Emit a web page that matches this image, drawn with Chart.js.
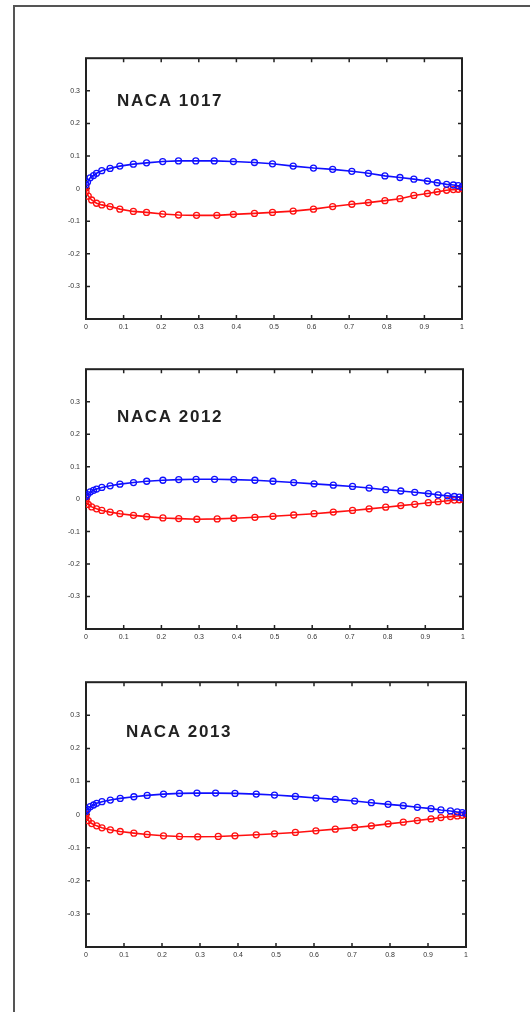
<!DOCTYPE html>
<html>
<head>
<meta charset="utf-8">
<script src="https://cdn.jsdelivr.net/npm/chart.js@4"></script>
<style>
  html, body { margin: 0; padding: 0; background: #fff; width: 530px; height: 1012px; overflow: hidden; }
  #frame { position: absolute; left: 13px; top: 5px; width: 600px; height: 1100px; border: 2px solid #555; box-sizing: border-box; }
  canvas { position: absolute; left: 0; }
</style>
</head>
<body>
<div id="frame"></div>
<canvas id="c1"></canvas>
<canvas id="c2"></canvas>
<canvas id="c3"></canvas>
<script>
// chord positions (x/c) of the plotted points
const xUpper = [0, 0.004, 0.011, 0.02, 0.028, 0.042, 0.064, 0.09, 0.126, 0.161, 0.204, 0.246, 0.292, 0.341, 0.392, 0.448, 0.496, 0.551, 0.605, 0.656, 0.707, 0.751, 0.795, 0.835, 0.872, 0.908, 0.934, 0.959, 0.977, 0.99, 1.0];
const xLower = [0, 0, 0.006, 0.015, 0.028, 0.042, 0.064, 0.09, 0.126, 0.161, 0.204, 0.246, 0.294, 0.348, 0.392, 0.448, 0.496, 0.551, 0.605, 0.656, 0.707, 0.751, 0.795, 0.835, 0.872, 0.908, 0.934, 0.959, 0.977, 0.99, 1.0];

// NACA 1017
const upper1017 = [0.012, 0.02, 0.033, 0.04, 0.047, 0.055, 0.062, 0.069, 0.075, 0.079, 0.083, 0.085, 0.085, 0.085, 0.083, 0.08, 0.076, 0.069, 0.063, 0.059, 0.053, 0.047, 0.039, 0.034, 0.029, 0.023, 0.018, 0.013, 0.011, 0.009, 0.005];
const lower1017 = [0.002, -0.01, -0.023, -0.035, -0.045, -0.05, -0.055, -0.063, -0.07, -0.073, -0.078, -0.081, -0.082, -0.082, -0.079, -0.076, -0.073, -0.069, -0.063, -0.055, -0.048, -0.043, -0.037, -0.031, -0.021, -0.015, -0.01, -0.005, -0.003, -0.002, 0];

// NACA 2012
const upper2012 = [0.008, 0.014, 0.022, 0.027, 0.031, 0.036, 0.041, 0.046, 0.051, 0.055, 0.058, 0.06, 0.061, 0.061, 0.06, 0.058, 0.055, 0.051, 0.047, 0.043, 0.039, 0.034, 0.029, 0.025, 0.021, 0.017, 0.013, 0.01, 0.008, 0.006, 0.004];
const lower2012 = [0.002, -0.008, -0.016, -0.024, -0.03, -0.035, -0.04, -0.045, -0.05, -0.054, -0.058, -0.06, -0.062, -0.061, -0.059, -0.056, -0.053, -0.049, -0.045, -0.04, -0.035, -0.03, -0.025, -0.02, -0.016, -0.011, -0.008, -0.005, -0.003, -0.002, 0];

// NACA 2013
const upper2013 = [0.01, 0.016, 0.024, 0.029, 0.034, 0.039, 0.044, 0.049, 0.054, 0.058, 0.062, 0.064, 0.065, 0.065, 0.064, 0.062, 0.059, 0.055, 0.05, 0.046, 0.041, 0.036, 0.031, 0.027, 0.022, 0.018, 0.014, 0.011, 0.008, 0.006, 0.004];
const lower2013 = [0.002, -0.009, -0.018, -0.027, -0.034, -0.04, -0.046, -0.051, -0.056, -0.06, -0.064, -0.066, -0.067, -0.066, -0.064, -0.061, -0.058, -0.054, -0.049, -0.044, -0.039, -0.034, -0.028, -0.023, -0.018, -0.013, -0.009, -0.006, -0.004, -0.002, 0];

const xTicks = [0, 0.1, 0.2, 0.3, 0.4, 0.5, 0.6, 0.7, 0.8, 0.9, 1];
const yTicks = [-0.3, -0.2, -0.1, 0, 0.1, 0.2, 0.3];

const plots = [
  { id: 'c1', name: 'NACA 1017', upper: upper1017, lower: lower1017, top: 58, bottom: 319, right: 462, textX: 31, textY: 48 },
  { id: 'c2', name: 'NACA 2012', upper: upper2012, lower: lower2012, top: 369, bottom: 629, right: 463, textX: 31, textY: 53 },
  { id: 'c3', name: 'NACA 2013', upper: upper2013, lower: lower2013, top: 682, bottom: 947, right: 466, textX: 40, textY: 55 },
];

const pts = (xs, ys) => xs.map((x, i) => ({ x: x, y: ys[i] }));
const fmt = v => (Math.abs(v) < 1e-9 ? '0' : String(Math.round(v * 10) / 10));

// box with inward ticks on all four sides, plus the airfoil name
const boxPlugin = {
  id: 'box',
  beforeDatasetsDraw(chart) {
    const { ctx, chartArea: a, scales } = chart;
    ctx.save();
    ctx.strokeStyle = '#222';
    ctx.lineWidth = 2;
    ctx.strokeRect(a.left, a.top, a.right - a.left, a.bottom - a.top);
    ctx.lineWidth = 1.5;
    ctx.beginPath();
    xTicks.forEach(v => {
      const px = scales.x.getPixelForValue(v);
      ctx.moveTo(px, a.bottom); ctx.lineTo(px, a.bottom - 4);
      ctx.moveTo(px, a.top); ctx.lineTo(px, a.top + 4);
    });
    yTicks.forEach(v => {
      const py = scales.y.getPixelForValue(v);
      ctx.moveTo(a.left, py); ctx.lineTo(a.left + 4, py);
      ctx.moveTo(a.right, py); ctx.lineTo(a.right - 4, py);
    });
    ctx.stroke();
    const p = chart.options.plugins.box;
    ctx.fillStyle = '#222';
    ctx.font = 'bold 17px "Liberation Sans", Arial, sans-serif';
    ctx.letterSpacing = '1.6px';
    ctx.textBaseline = 'alphabetic';
    ctx.fillText(p.name, a.left + p.textX, a.top + p.textY);
    ctx.restore();
  }
};

plots.forEach(p => {
  const canvas = document.getElementById(p.id);
  const padTop = 10;
  const h = (p.bottom - p.top) + padTop + 25;
  canvas.style.top = (p.top - padTop) + 'px';
  canvas.width = 530; canvas.height = h;
  canvas.style.width = '530px'; canvas.style.height = h + 'px';

  new Chart(canvas.getContext('2d'), {
    type: 'scatter',
    data: {
      datasets: [
        {
          data: pts(xUpper, p.upper),
          borderColor: '#1010ff',
          backgroundColor: 'rgba(255,255,255,0)',
          pointBorderColor: '#1010ff',
          pointBorderWidth: 1.3,
          pointRadius: 3,
          borderWidth: 1.6,
          showLine: true,
          tension: 0
        },
        {
          data: pts(xLower, p.lower),
          borderColor: '#ff1010',
          backgroundColor: 'rgba(255,255,255,0)',
          pointBorderColor: '#ff1010',
          pointBorderWidth: 1.3,
          pointRadius: 3,
          borderWidth: 1.6,
          showLine: true,
          tension: 0
        }
      ]
    },
    options: {
      responsive: false,
      animation: false,
      layout: { padding: { top: padTop, left: 0, right: 530 - p.right, bottom: 0 } },
      plugins: {
        legend: { display: false },
        tooltip: { enabled: false },
        box: { name: p.name, textX: p.textX, textY: p.textY }
      },
      scales: {
        x: {
          type: 'linear',
          min: 0, max: 1,
          afterBuildTicks: s => { s.ticks = xTicks.map(v => ({ value: v })); },
          afterFit: s => { s.height = 25; },
          grid: { display: false, drawTicks: false },
          border: { display: false },
          ticks: {
            padding: 4,
            color: '#333',
            font: { family: '"Liberation Sans", Arial, sans-serif', size: 7 },
            callback: v => fmt(v),
            maxRotation: 0
          }
        },
        y: {
          type: 'linear',
          min: -0.4, max: 0.4,
          afterBuildTicks: s => { s.ticks = yTicks.map(v => ({ value: v })); },
          afterFit: s => { s.width = 86; },
          grid: { display: false, drawTicks: false },
          border: { display: false },
          ticks: {
            padding: 6,
            color: '#333',
            font: { family: '"Liberation Sans", Arial, sans-serif', size: 7 },
            callback: v => fmt(v)
          }
        }
      }
    },
    plugins: [boxPlugin]
  });
});
</script>
</body>
</html>
